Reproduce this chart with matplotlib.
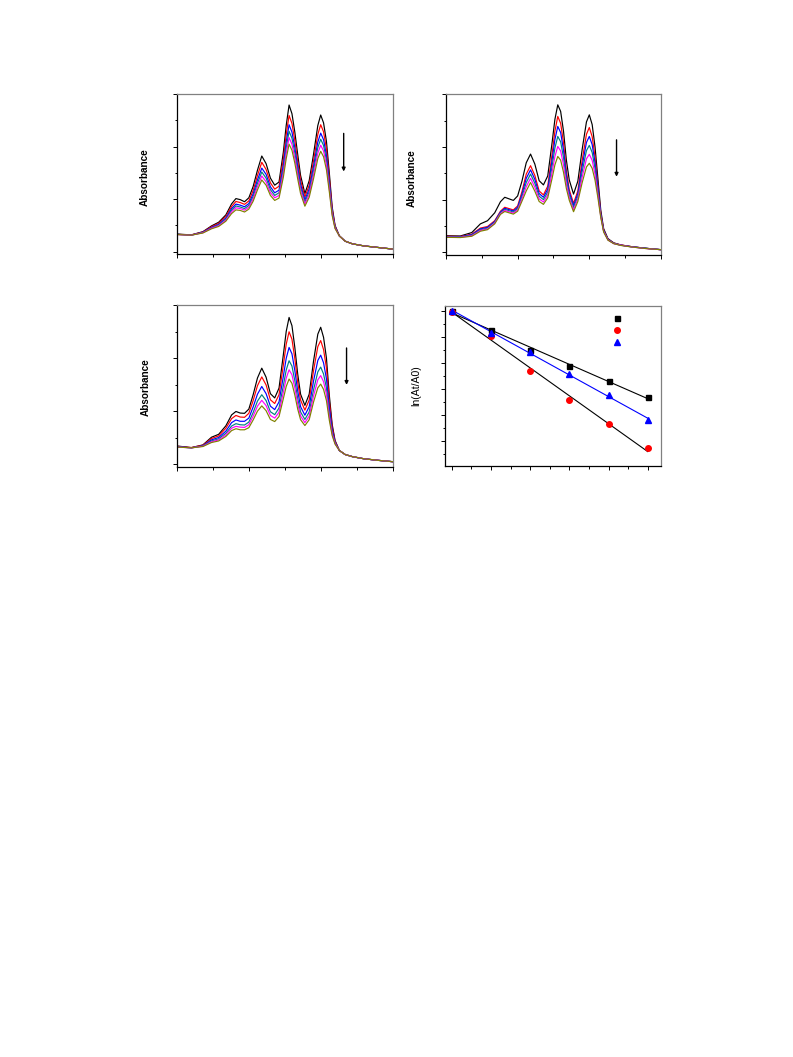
import numpy as np
import matplotlib
matplotlib.use("Agg")
import matplotlib.pyplot as plt
from matplotlib.ticker import MultipleLocator

plt.rcParams['font.family'] = ['Liberation Sans', 'DejaVu Sans']

# wavelength grid (nm) shared by the three spectra panels
wl = [300, 310, 318, 324, 329, 334, 338, 341, 344, 347, 350, 353, 356, 359, 362,
      365, 368, 371, 374, 376, 378, 380, 382, 384, 386, 389, 392, 395, 398, 400,
      402, 404, 406, 408, 410, 413, 417, 422, 430, 440, 450]

# top-left panel
tl_black = [0.067, 0.064, 0.076, 0.098, 0.112, 0.140, 0.182, 0.202, 0.198, 0.190, 0.205,
            0.248, 0.310, 0.364, 0.335, 0.280, 0.253, 0.265, 0.378, 0.480, 0.558, 0.525,
            0.455, 0.370, 0.290, 0.221, 0.270, 0.370, 0.480, 0.520, 0.490, 0.420, 0.300,
            0.170, 0.100, 0.060, 0.040, 0.030, 0.022, 0.016, 0.010]
tl_red = [0.066, 0.064, 0.075, 0.095, 0.108, 0.134, 0.172, 0.191, 0.187, 0.180, 0.193,
          0.233, 0.290, 0.340, 0.313, 0.262, 0.238, 0.249, 0.353, 0.446, 0.518, 0.488,
          0.423, 0.345, 0.272, 0.208, 0.253, 0.345, 0.446, 0.483, 0.456, 0.391, 0.281,
          0.161, 0.097, 0.060, 0.040, 0.030, 0.022, 0.016, 0.010]
tl_blue = [0.066, 0.063, 0.074, 0.092, 0.104, 0.128, 0.164, 0.181, 0.177, 0.171, 0.183,
           0.220, 0.273, 0.318, 0.294, 0.247, 0.224, 0.234, 0.330, 0.417, 0.483, 0.455,
           0.396, 0.324, 0.256, 0.197, 0.239, 0.324, 0.417, 0.451, 0.426, 0.366, 0.264,
           0.154, 0.094, 0.060, 0.040, 0.030, 0.022, 0.016, 0.010]
tl_teal = [0.066, 0.063, 0.073, 0.090, 0.102, 0.124, 0.158, 0.174, 0.170, 0.164, 0.176,
           0.210, 0.260, 0.303, 0.280, 0.236, 0.214, 0.224, 0.314, 0.396, 0.458, 0.432,
           0.376, 0.308, 0.244, 0.189, 0.228, 0.308, 0.396, 0.428, 0.404, 0.348, 0.252,
           0.148, 0.092, 0.060, 0.040, 0.030, 0.022, 0.016, 0.010]
tl_magenta = [0.065, 0.063, 0.072, 0.089, 0.099, 0.120, 0.152, 0.167, 0.164, 0.158, 0.169,
              0.201, 0.248, 0.288, 0.266, 0.225, 0.205, 0.214, 0.299, 0.375, 0.434, 0.409,
              0.356, 0.293, 0.233, 0.181, 0.218, 0.293, 0.375, 0.405, 0.383, 0.330, 0.240,
              0.143, 0.090, 0.060, 0.040, 0.030, 0.022, 0.016, 0.010]
tl_olive = [0.065, 0.063, 0.071, 0.087, 0.096, 0.116, 0.145, 0.159, 0.157, 0.151, 0.162,
            0.192, 0.235, 0.273, 0.253, 0.214, 0.195, 0.204, 0.283, 0.354, 0.409, 0.386,
            0.337, 0.277, 0.221, 0.173, 0.207, 0.277, 0.354, 0.382, 0.361, 0.312, 0.228,
            0.137, 0.088, 0.060, 0.040, 0.030, 0.022, 0.016, 0.010]

# top-right panel
tr_black = [0.063, 0.062, 0.075, 0.108, 0.120, 0.150, 0.192, 0.209, 0.203, 0.197, 0.214,
            0.270, 0.340, 0.373, 0.335, 0.272, 0.256, 0.290, 0.415, 0.505, 0.560, 0.535,
            0.460, 0.350, 0.275, 0.221, 0.270, 0.390, 0.495, 0.522, 0.485, 0.400, 0.280,
            0.160, 0.090, 0.052, 0.036, 0.028, 0.021, 0.015, 0.010]
tr_red = [0.061, 0.060, 0.069, 0.092, 0.098, 0.120, 0.156, 0.171, 0.166, 0.161, 0.176,
          0.230, 0.297, 0.329, 0.292, 0.233, 0.218, 0.251, 0.372, 0.460, 0.516, 0.490,
          0.416, 0.310, 0.238, 0.186, 0.233, 0.348, 0.448, 0.474, 0.439, 0.362, 0.255,
          0.148, 0.085, 0.050, 0.035, 0.028, 0.021, 0.015, 0.010]
tr_blue = [0.060, 0.059, 0.067, 0.089, 0.095, 0.117, 0.153, 0.167, 0.162, 0.157, 0.171,
           0.221, 0.281, 0.313, 0.277, 0.223, 0.209, 0.240, 0.349, 0.428, 0.478, 0.455,
           0.388, 0.293, 0.228, 0.178, 0.223, 0.327, 0.417, 0.440, 0.409, 0.340, 0.243,
           0.144, 0.083, 0.049, 0.034, 0.027, 0.021, 0.015, 0.010]
tr_teal = [0.059, 0.058, 0.065, 0.086, 0.092, 0.114, 0.150, 0.163, 0.158, 0.153, 0.166,
           0.212, 0.265, 0.297, 0.262, 0.213, 0.200, 0.229, 0.326, 0.396, 0.440, 0.420,
           0.360, 0.276, 0.218, 0.170, 0.213, 0.306, 0.386, 0.406, 0.379, 0.318, 0.231,
           0.140, 0.081, 0.048, 0.034, 0.027, 0.020, 0.015, 0.010]
tr_magenta = [0.058, 0.057, 0.063, 0.083, 0.089, 0.111, 0.147, 0.159, 0.154, 0.149, 0.161,
              0.203, 0.249, 0.281, 0.247, 0.203, 0.191, 0.218, 0.303, 0.364, 0.402, 0.385,
              0.332, 0.259, 0.208, 0.162, 0.203, 0.285, 0.355, 0.372, 0.349, 0.296, 0.219,
              0.136, 0.079, 0.047, 0.033, 0.027, 0.020, 0.014, 0.010]
tr_olive = [0.057, 0.056, 0.061, 0.080, 0.086, 0.108, 0.144, 0.155, 0.150, 0.145, 0.156,
            0.194, 0.233, 0.265, 0.232, 0.193, 0.182, 0.207, 0.280, 0.332, 0.364, 0.350,
            0.304, 0.242, 0.198, 0.154, 0.193, 0.264, 0.324, 0.338, 0.319, 0.274, 0.207,
            0.132, 0.077, 0.046, 0.033, 0.026, 0.020, 0.014, 0.010]

# bottom-left panel
bl_black = [0.069, 0.063, 0.073, 0.102, 0.113, 0.145, 0.186, 0.199, 0.193, 0.192, 0.208,
            0.262, 0.325, 0.362, 0.328, 0.266, 0.250, 0.287, 0.412, 0.500, 0.553, 0.522,
            0.440, 0.340, 0.264, 0.222, 0.264, 0.388, 0.490, 0.516, 0.478, 0.400, 0.260,
            0.150, 0.090, 0.052, 0.037, 0.029, 0.021, 0.015, 0.010]
bl_red = [0.068, 0.063, 0.072, 0.097, 0.107, 0.136, 0.172, 0.184, 0.178, 0.177, 0.192,
          0.240, 0.296, 0.329, 0.299, 0.243, 0.229, 0.262, 0.373, 0.452, 0.499, 0.471,
          0.398, 0.309, 0.242, 0.204, 0.242, 0.352, 0.443, 0.466, 0.432, 0.363, 0.238,
          0.140, 0.087, 0.052, 0.037, 0.029, 0.021, 0.015, 0.010]
bl_blue = [0.067, 0.062, 0.070, 0.092, 0.101, 0.125, 0.157, 0.167, 0.162, 0.162, 0.174,
           0.216, 0.264, 0.293, 0.266, 0.219, 0.206, 0.235, 0.331, 0.399, 0.440, 0.416,
           0.353, 0.276, 0.217, 0.185, 0.217, 0.313, 0.391, 0.411, 0.382, 0.322, 0.214,
           0.129, 0.083, 0.052, 0.037, 0.029, 0.021, 0.015, 0.010]
bl_teal = [0.066, 0.062, 0.069, 0.088, 0.096, 0.117, 0.144, 0.153, 0.149, 0.148, 0.159,
           0.195, 0.238, 0.262, 0.240, 0.198, 0.187, 0.212, 0.296, 0.355, 0.390, 0.370,
           0.315, 0.248, 0.197, 0.169, 0.197, 0.280, 0.348, 0.366, 0.340, 0.288, 0.194,
           0.120, 0.080, 0.052, 0.037, 0.029, 0.021, 0.015, 0.010]
bl_magenta = [0.065, 0.062, 0.068, 0.085, 0.092, 0.111, 0.136, 0.143, 0.140, 0.139, 0.149,
              0.181, 0.219, 0.241, 0.221, 0.184, 0.174, 0.196, 0.271, 0.324, 0.356, 0.337,
              0.288, 0.228, 0.182, 0.157, 0.182, 0.257, 0.318, 0.334, 0.311, 0.264, 0.180,
              0.114, 0.078, 0.052, 0.037, 0.029, 0.021, 0.015, 0.010]
bl_olive = [0.065, 0.062, 0.067, 0.082, 0.088, 0.105, 0.127, 0.134, 0.130, 0.130, 0.138,
            0.167, 0.200, 0.220, 0.202, 0.169, 0.161, 0.180, 0.247, 0.293, 0.321, 0.305,
            0.261, 0.208, 0.168, 0.146, 0.168, 0.234, 0.288, 0.302, 0.282, 0.240, 0.166,
            0.108, 0.076, 0.052, 0.037, 0.029, 0.021, 0.015, 0.010]

# bottom-right panel: ln(At/A0) vs time
t = [0, 2, 4, 6, 8, 10]
ln_sq = [0.0, -0.074, -0.151, -0.213, -0.271, -0.331]
ln_ci = [-0.004, -0.097, -0.231, -0.345, -0.436, -0.528]
ln_tri = [0.0, -0.085, -0.158, -0.245, -0.324, -0.421]

colors = ['#000000', '#FF0000', '#0000FF', '#008080', '#FF00FF', '#808000']


def style_axes(ax):
    ax.spines['top'].set_color('#808080')
    ax.spines['right'].set_color('#808080')
    for s in ax.spines.values():
        s.set_linewidth(0.9)
    ax.tick_params(which='both', direction='out', top=False, right=False,
                   labelleft=False, labelbottom=False, width=0.7)
    ax.tick_params(which='major', length=3)
    ax.tick_params(which='minor', length=1.8)


def spectra_panel(ax, curves, arrow_x, arrow_top, arrow_bot, label_x, label_y):
    for ys, c in zip(curves, colors):
        ax.plot(wl, ys, color=c, lw=0.85, solid_joinstyle='round')
    ax.set_xlim(300, 450)
    ax.set_ylim(-0.01, 0.6)
    ax.xaxis.set_major_locator(MultipleLocator(50))
    ax.xaxis.set_minor_locator(MultipleLocator(25))
    ax.yaxis.set_major_locator(MultipleLocator(0.2))
    ax.yaxis.set_minor_locator(MultipleLocator(0.1))
    ax.annotate('', xy=(arrow_x, arrow_bot), xytext=(arrow_x, arrow_top),
                arrowprops=dict(arrowstyle='-|>', lw=1.0, color='k',
                                mutation_scale=5, shrinkA=0, shrinkB=0))
    ax.set_ylabel('Absorbance', fontsize=7.2, fontweight='bold')
    ax.yaxis.set_label_coords(label_x, label_y)
    style_axes(ax)


fig = plt.figure(figsize=(7.93, 10.57), dpi=100)

ax1 = fig.add_axes([0.2232, 0.7594, 0.2718, 0.1517])
spectra_panel(ax1, [tl_black, tl_red, tl_blue, tl_teal, tl_magenta, tl_olive],
              416, 0.45, 0.305, -0.128, 0.48)

ax2 = fig.add_axes([0.5624, 0.7588, 0.2711, 0.1520])
spectra_panel(ax2, [tr_black, tr_red, tr_blue, tr_teal, tr_magenta, tr_olive],
              419, 0.427, 0.287, -0.135, 0.48)

ax3 = fig.add_axes([0.2232, 0.5582, 0.2718, 0.1533])
spectra_panel(ax3, [bl_black, bl_red, bl_blue, bl_teal, bl_magenta, bl_olive],
              418, 0.438, 0.299, -0.120, 0.49)

# kinetics panel
ax4 = fig.add_axes([0.5612, 0.5591, 0.2724, 0.1517])
tt = np.array(t, dtype=float)
for ys, lc in [(ln_sq, 'k'), (ln_ci, 'k'), (ln_tri, '#0000FF')]:
    k, b = np.polyfit(tt, ys, 1)
    ax4.plot(tt, k * tt + b, color=lc, lw=0.8)
h1, = ax4.plot(t, ln_sq, 's', color='k', ms=3.6, ls='none')
h2, = ax4.plot(t, ln_ci, 'o', color='#FF0000', ms=4.0, ls='none')
h3, = ax4.plot(t, ln_tri, '^', color='#0000FF', ms=4.4, ls='none')
ax4.set_xlim(-0.34, 10.68)
ax4.set_ylim(-0.597, 0.019)
ax4.xaxis.set_major_locator(MultipleLocator(2))
ax4.xaxis.set_minor_locator(MultipleLocator(1))
ax4.yaxis.set_major_locator(MultipleLocator(0.1))
ax4.yaxis.set_minor_locator(MultipleLocator(0.05))
ax4.set_ylabel('ln(At/A0)', fontsize=7.6)
ax4.yaxis.set_label_coords(-0.112, 0.5)
ax4.legend([h1, h2, h3], ['', '', ''], loc='center', bbox_to_anchor=(0.795, 0.846),
           frameon=False, handlelength=1.0, handletextpad=0.0, borderpad=0,
           labelspacing=0.25, fontsize=7)
style_axes(ax4)

fig.savefig('out.png', dpi=100)
